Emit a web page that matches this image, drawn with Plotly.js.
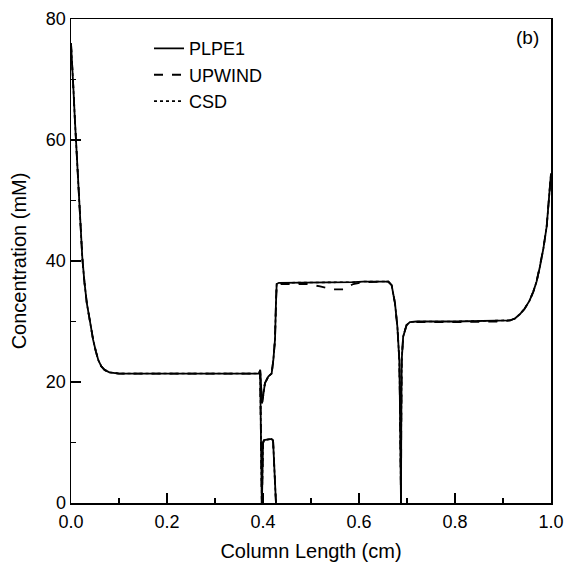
<!DOCTYPE html>
<html>
<head>
<meta charset="utf-8">
<script src="https://cdn.plot.ly/plotly-3.0.1.min.js"></script>
<style>html,body{margin:0;padding:0;background:#fff;}#chart{width:568px;height:564px;}</style>
</head>
<body>
<div id="chart"></div>
<script>
// Column position (cm); null separates the curve branches
const colLength = [
  0, 0.002, 0.005, 0.008, 0.0104, 0.014, 0.018, 0.0236, 0.028, 0.033, 0.04, 0.046, 0.052, 0.057, 0.063, 0.07, 0.08, 0.09, 0.1, 0.2, 0.3, 0.385,
  0.392, 0.394, 0.396, 0.398, 0.4, 0.404, 0.411, 0.418, 0.4215, 0.425, 0.427, 0.4285, 0.433,
  0.442, 0.46, 0.491, 0.519, 0.546, 0.567, 0.588, 0.609, 0.64, 0.661, 0.668, 0.675, 0.68, 0.684, 0.685, 0.687, 0.6875,
  0.688, 0.689, 0.692, 0.699, 0.706, 0.72, 0.8, 0.9, 0.915, 0.925, 0.935, 0.945, 0.955, 0.963, 0.97, 0.977, 0.984, 0.991, 0.996, 1.0,
  null,
  0.394, 0.3965, 0.3975,
  null,
  0.3978, 0.399, 0.4, 0.402, 0.41, 0.418, 0.421, 0.424, 0.426, 0.427
];
const plpe1 = [
  76, 73.5, 68.5, 63.5, 60, 54, 47.5, 40.5, 36.5, 33, 29.8, 27, 25, 23.6, 22.6, 22, 21.6, 21.45, 21.4, 21.4, 21.4, 21.4,
  21.4, 22.0, 19, 16.5, 17.5, 19.8, 20.9, 21.4, 23.6, 27, 33, 36.2, 36.4,
  36.4, 36.4, 36.4, 36.5, 36.5, 36.5, 36.5, 36.6, 36.6, 36.6, 36.0, 33.0, 29.1, 23.6, 18.1, 7.1, 0,
  12, 23.6, 27.5, 29.4, 29.9, 30.0, 30.0, 30.1, 30.2, 30.5, 31.2, 32.1, 33.4, 34.9, 36.6, 39.1, 42, 45.7, 50, 54.5,
  null,
  22, 10, 0,
  null,
  0, 6, 9.9, 10.4, 10.5, 10.6, 10.3, 6, 1, 0
];
const upwind = [
  76, 73.5, 68.5, 63.5, 60, 54, 47.5, 40.5, 36.5, 33, 29.8, 27, 25, 23.6, 22.6, 22, 21.6, 21.45, 21.4, 21.4, 21.4, 21.4,
  21.4, 22.0, 19, 16.5, 17.5, 19.8, 20.9, 21.4, 23.6, 27, 33, 36.1, 36.2,
  36.2, 36.2, 36.2, 35.8, 35.3, 35.3, 36.2, 36.5, 36.6, 36.6, 36.0, 33.0, 29.1, 23.6, 18.1, 7.1, 0,
  12, 23.6, 27.5, 29.4, 29.8, 29.9, 29.9, 30.0, 30.2, 30.5, 31.2, 32.1, 33.4, 34.9, 36.6, 39.1, 42, 45.7, 50, 54.5,
  null,
  22, 10, 0,
  null,
  0, 6, 9.9, 10.4, 10.5, 10.6, 10.3, 6, 1, 0
];
const csd = [
  76, 73.5, 68.5, 63.5, 60, 54, 47.5, 40.5, 36.5, 33, 29.8, 27, 25, 23.6, 22.6, 22, 21.6, 21.45, 21.4, 21.4, 21.4, 21.4,
  21.4, 22.0, 19, 16.5, 17.5, 19.8, 20.9, 21.4, 23.6, 27, 33, 36.2, 36.4,
  36.4, 36.4, 36.4, 36.5, 36.5, 36.5, 36.5, 36.6, 36.6, 36.6, 36.0, 33.0, 29.1, 23.6, 18.1, 7.1, 0,
  12, 23.6, 27.5, 29.4, 29.9, 30.0, 30.0, 30.1, 30.2, 30.5, 31.2, 32.1, 33.4, 34.9, 36.6, 39.1, 42, 45.7, 50, 54.5,
  null,
  22, 10, 0,
  null,
  0, 6, 9.9, 10.4, 10.5, 10.6, 10.3, 6, 1, 0
];
const seriesNames = ['PLPE1', 'UPWIND', 'CSD'];
const panelLabel = '(b)';

const FONT = 'Liberation Sans, Arial, Helvetica, sans-serif';

const traces = [
  {x: colLength, y: csd, name: seriesNames[2], mode: 'lines', connectgaps: false,
   line: {color: '#000', width: 1.6, dash: 'dot'}, legendrank: 3},
  {x: colLength, y: upwind, name: seriesNames[1], mode: 'lines', connectgaps: false,
   line: {color: '#000', width: 1.8, dash: 'dash'}, legendrank: 2},
  {x: colLength, y: plpe1, name: seriesNames[0], mode: 'lines', connectgaps: false,
   line: {color: '#000', width: 1.8}, legendrank: 1}
];

const axisCommon = {
  showgrid: false, zeroline: false, showline: true, mirror: true,
  linecolor: '#000', linewidth: 1.5,
  ticks: 'inside', ticklen: 10, tickwidth: 1.5, tickcolor: '#000',
  tickfont: {family: FONT, size: 18, color: '#000'}
};

const layout = {
  width: 568, height: 564,
  margin: {l: 71, r: 17, t: 19, b: 61},
  paper_bgcolor: '#fff', plot_bgcolor: '#fff',
  font: {family: FONT, color: '#000'},
  showlegend: true,
  legend: {x: 0.1625, y: 0.977, xanchor: 'left', yanchor: 'top',
           bgcolor: 'rgba(0,0,0,0)', font: {family: FONT, size: 18, color: '#000'},
           tracegroupgap: 0},
  xaxis: Object.assign({}, axisCommon, {
    range: [0, 1], dtick: 0.2, tick0: 0, tickformat: '.1f', ticklabelstandoff: 2,
    minor: {dtick: 0.1, ticks: 'inside', ticklen: 5, tickwidth: 1.5, tickcolor: '#000'},
    title: {text: 'Column Length (cm)', font: {family: FONT, size: 20, color: '#000'}, standoff: 13}
  }),
  yaxis: Object.assign({}, axisCommon, {
    range: [0, 80], dtick: 20, tick0: 0,
    minor: {dtick: 10, ticks: 'inside', ticklen: 5, tickwidth: 1.5, tickcolor: '#000'},
    title: {text: 'Concentration (mM)', font: {family: FONT, size: 20, color: '#000'}, standoff: 14}
  }),
  annotations: [{
    text: panelLabel, xref: 'paper', yref: 'paper', x: 0.952, y: 0.961,
    xanchor: 'center', yanchor: 'middle',
    showarrow: false, font: {family: FONT, size: 19, color: '#000'}
  }]
};

Plotly.newPlot('chart', traces, layout, {staticPlot: true, displayModeBar: false});
</script>
</body>
</html>
